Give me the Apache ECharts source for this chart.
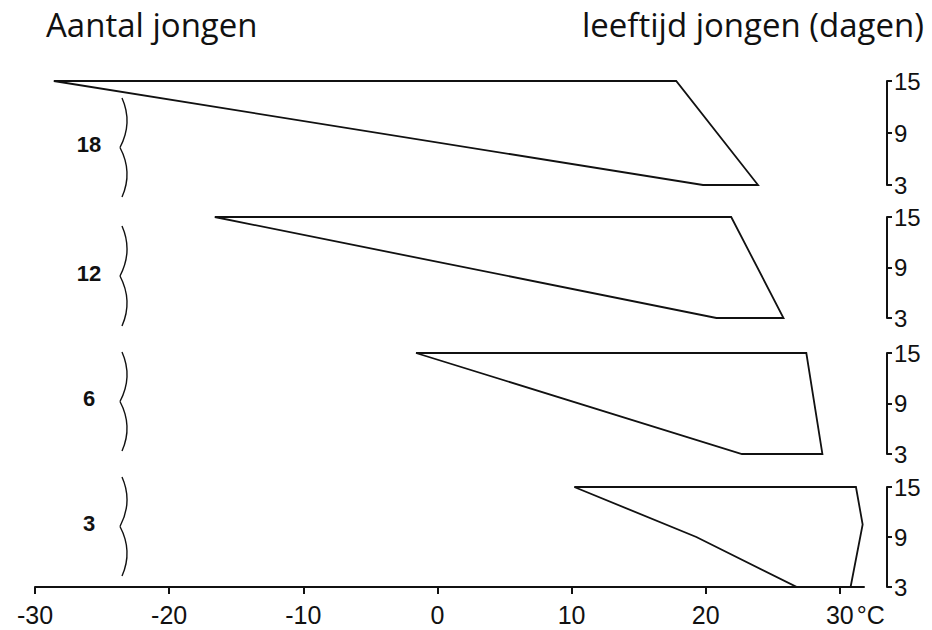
<!DOCTYPE html>
<html><head><meta charset="utf-8">
<script src="https://cdn.jsdelivr.net/npm/echarts@6/dist/echarts.min.js"></script>
<style>html,body{margin:0;padding:0;background:#fff}#c{width:932px;height:630px}</style>
</head><body><div id="c"></div>
<script>
// ---- data ----
const groupLabels = ['18', '12', '6', '3'];          // aantal jongen
const tempTicks = [-30, -20, -10, 0, 10, 20, 30];    // °C
const ageTicks = [3, 9, 15];                         // leeftijd (dagen)
const temp18 = [-28.6, 17.8, 23.9, 19.8, -28.6];
const age18  = [15, 15, 3, 3, 15];
const temp12 = [-16.6, 21.9, 25.8, 20.8, -16.6];
const age12  = [15, 15, 3, 3, 15];
const temp6  = [-1.6, 27.5, 28.7, 22.7, -1.6];
const age6   = [15, 15, 3, 3, 15];
const temp3  = [10.2, 31.2, 31.7, 30.8, 26.8, 19.3, 10.2];
const age3   = [15, 15, 10.5, 3, 3, 9, 15];

const temps = [temp18, temp12, temp6, temp3];
const ages = [age18, age12, age6, age3];

// ---- layout / style ----
const xMax = 31.8;   // axis range reaches a little past the 30 tick
const bands = [{top: 81, height: 104}, {top: 217, height: 101}, {top: 353, height: 101}, {top: 487, height: 100}];
const braceY = [[98, 197], [226, 326], [352, 451], [477, 576]];
const numFont = "'Liberation Sans Narrow', 'Liberation Sans', Arial, sans-serif";
const ink = '#111';

const chart = echarts.init(document.getElementById('c'), null, {renderer: 'svg'});

const grids = bands.map(b => ({left: 35, right: 68, top: b.top, height: b.height, containLabel: false}));
const last = bands.length - 1;
const xAxes = bands.map((b, i) => ({
  type: 'value', gridIndex: i,
  min: tempTicks[0], max: xMax, interval: tempTicks[1] - tempTicks[0],
  show: i === last,
  axisLine: {show: true, onZero: false, lineStyle: {color: ink, width: 2}},
  axisTick: {show: true, length: 7, customValues: tempTicks, lineStyle: {color: ink, width: 2}},
  axisLabel: {
    margin: 15, color: ink, fontSize: 25, fontFamily: numFont, customValues: tempTicks,
    formatter: v => v === tempTicks[tempTicks.length - 1] ? '{p|}' + v + '{u|°C}' : String(v),
    rich: {
      p: {width: 31, fontSize: 25, fontFamily: numFont},
      u: {fontSize: 25, fontFamily: numFont, color: ink, padding: [0, 0, 0, 3]}
    }
  },
  splitLine: {show: false}
}));
const yAxes = bands.map((b, i) => ({
  type: 'value', gridIndex: i, position: 'right', offset: 23,
  min: ageTicks[0], max: ageTicks[ageTicks.length - 1], interval: ageTicks[1] - ageTicks[0],
  axisLine: {show: true, onZero: false, lineStyle: {color: ink, width: 2}},
  axisTick: {show: true, length: 5, lineStyle: {color: ink, width: 2}},
  axisLabel: {margin: 7, color: ink, fontSize: 24, fontFamily: numFont},
  splitLine: {show: false}
}));
const series = temps.map((t, i) => ({
  type: 'line', xAxisIndex: i, yAxisIndex: i, name: groupLabels[i],
  data: t.map((v, j) => [v, ages[i][j]]),
  symbol: 'none', clip: false, silent: true,
  lineStyle: {color: ink, width: 1.8, join: 'miter'}
}));

const graphics = [];
groupLabels.forEach((lab, i) => {
  const [yT, yB] = braceY[i];
  const yM = (yT + yB) / 2;
  graphics.push({
    type: 'text', x: 89, y: yM - 3, silent: true,
    style: {text: lab, fill: ink, font: "bold 22px 'Liberation Sans', Arial, sans-serif", align: 'center', verticalAlign: 'middle'}
  });
  const xc = 121;
  graphics.push({
    type: 'bezierCurve', silent: true,
    shape: {x1: xc + 1, y1: yT, cpx1: xc + 12, cpy1: (yT + yM) / 2, x2: xc - 1, y2: yM},
    style: {fill: 'none', stroke: ink, lineWidth: 1.4}
  });
  graphics.push({
    type: 'bezierCurve', silent: true,
    shape: {x1: xc - 1, y1: yM, cpx1: xc + 12, cpy1: (yM + yB) / 2, x2: xc + 1, y2: yB},
    style: {fill: 'none', stroke: ink, lineWidth: 1.4}
  });
});

chart.setOption({
  animation: false,
  backgroundColor: '#fff',
  title: [
    {text: 'Aantal jongen', left: 41, top: 3, textStyle: {color: ink, fontSize: 33, fontWeight: 'normal', fontFamily: "'Open Sans', sans-serif"}},
    {text: 'leeftijd jongen (dagen)', right: 3, top: 3, textStyle: {color: ink, fontSize: 33, fontWeight: 'normal', fontFamily: "'Open Sans', sans-serif"}}
  ],
  grid: grids,
  xAxis: xAxes,
  yAxis: yAxes,
  series: series,
  graphic: graphics
});
</script>
</body></html>
